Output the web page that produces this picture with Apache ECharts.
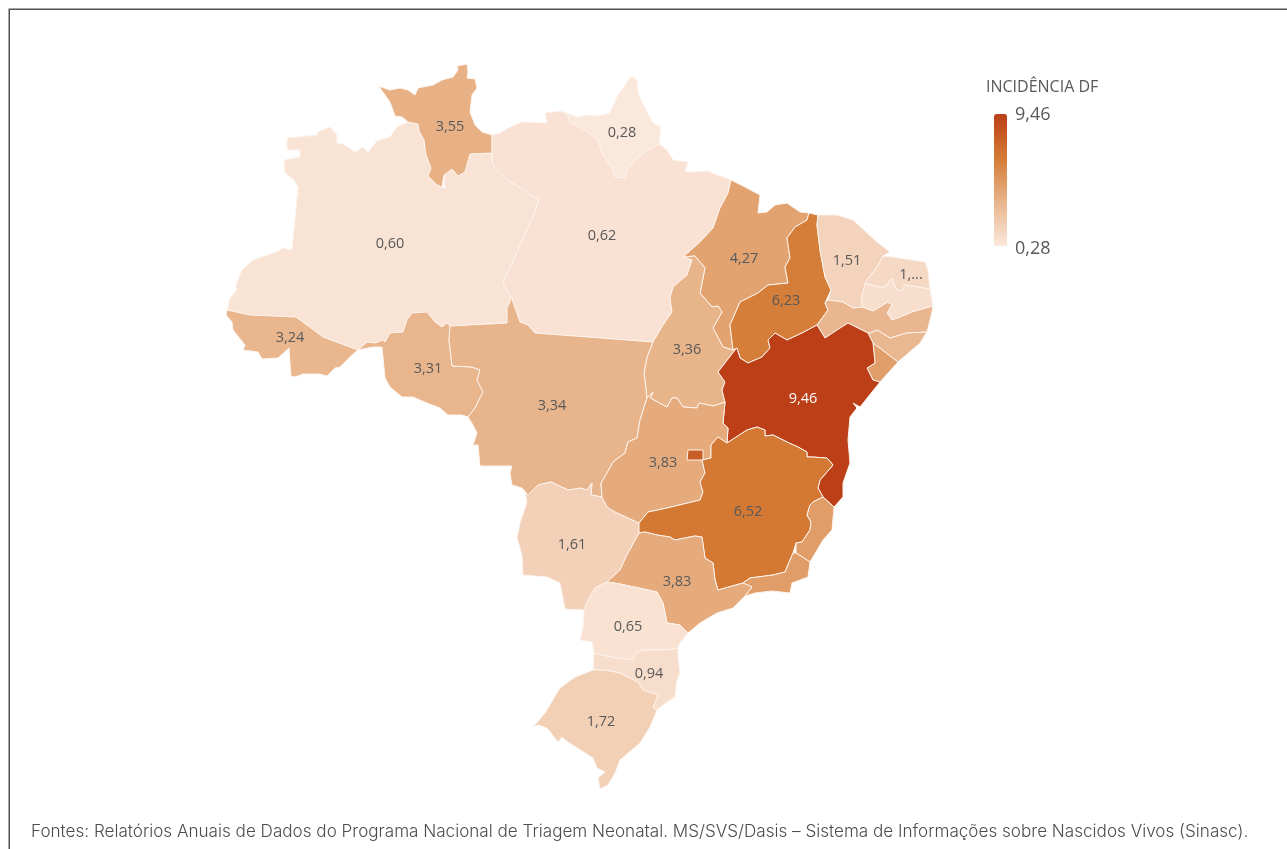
<!DOCTYPE html>
<html>
<head>
<meta charset="utf-8">
<title>Incidência DF</title>
<style>
  html, body { margin: 0; padding: 0; background: #fff; }
  #myChart { width: 1287px; height: 849px; }
</style>
<script src="https://cdn.jsdelivr.net/npm/echarts@6/dist/echarts.min.js"></script>
</head>
<body>
<div id="myChart"></div>
<script>
// valores por estado
const states = ["AM", "RR", "AP", "PA", "MA", "TO", "PI", "CE", "RN", "PB", "PE", "AL", "SE", "BA", "AC", "RO", "MT", "MS", "GO", "DF", "MG", "ES", "RJ", "SP", "PR", "SC", "RS"];
const values = [0.60, 3.55, 0.28, 0.62, 4.27, 3.36, 6.23, 1.51, 1.15, 0.85, 3.2, 3.1, 4.5, 9.46, 3.24, 3.31, 3.34, 1.61, 3.83, 7.9, 6.52, 4.6, 4.6, 3.83, 0.65, 0.94, 1.72];
const labels = ["0,60", "3,55", "0,28", "0,62", "4,27", "3,36", "6,23", "1,51", "1,...", "", "", "", "", "9,46", "3,24", "3,31", "3,34", "1,61", "3,83", "", "6,52", "", "", "3,83", "0,65", "0,94", "1,72"];
const labelPoints = [[390, 242], [450, 125], [622, 131], [602, 234], [744, 257], [687, 348], [786, 299], [847, 259], [911, 273], [900, 300], [880, 320], [900, 345], [880, 365], [803, 397], [290, 336], [428, 367], [552, 404], [572, 543], [663, 461], [695, 455], [748, 510], [815, 525], [775, 585], [677, 580], [628, 625], [649, 672], [601, 720]];
const legendColors = ["#fbe8dc", "#e8b48b", "#d47b35", "#bc3f17"];

// contornos (coordenadas da imagem)
const outlines = {
  AM: [[287,138],[317,135],[318,132],[330,127],[337,135],[337,143],[343,144],[355,152],[363,147],[368,152],[377,141],[390,137],[397,127],[408,122],[418,124],[419,131],[424,140],[426,155],[431,168],[428,176],[437,185],[442,187],[445,189],[444,175],[452,169],[458,176],[465,172],[470,154],[492,153],[492,162],[495,168],[507,180],[523,189],[535,198],[539,198],[535,212],[503,283],[513,302],[512,297],[507,308],[507,323],[450,326],[447,323],[442,327],[435,322],[427,312],[412,313],[407,320],[403,332],[390,333],[385,342],[383,340],[375,343],[367,342],[358,350],[323,337],[296,317],[250,315],[227,310],[228,307],[230,298],[237,290],[236,285],[242,270],[253,260],[277,252],[283,248],[292,250],[298,187],[294,180],[285,173],[284,160],[300,157],[300,150],[287,150]],
  RR: [[378,86],[390,90],[400,88],[408,90],[415,95],[418,88],[433,85],[442,80],[453,77],[458,70],[457,66],[467,64],[468,72],[467,78],[475,79],[477,88],[472,95],[470,112],[475,125],[482,132],[492,135],[492,153],[470,154],[465,172],[458,176],[452,169],[444,175],[442,187],[437,185],[428,176],[431,168],[426,155],[424,140],[419,131],[418,124],[408,122],[402,117],[395,116],[390,102],[380,88]],
  AP: [[567,113],[570,123],[582,128],[598,140],[602,153],[612,168],[615,177],[625,178],[628,168],[638,157],[653,147],[659,144],[661,127],[653,123],[650,117],[642,102],[638,92],[637,80],[632,76],[627,82],[617,97],[610,113],[598,116],[588,115],[577,117]],
  PA: [[492,135],[500,133],[510,127],[522,122],[547,123],[545,113],[560,111],[567,113],[570,123],[582,128],[598,140],[602,153],[612,168],[615,177],[625,178],[628,168],[638,157],[653,147],[659,144],[667,150],[673,160],[688,162],[685,171],[690,172],[707,171],[731,180],[728,193],[720,208],[713,228],[700,242],[683,257],[692,260],[687,275],[673,287],[670,298],[672,312],[663,325],[653,342],[535,333],[528,325],[520,322],[513,302],[503,283],[535,212],[539,198],[535,198],[523,189],[507,180],[495,168],[492,162],[492,153]],
  MA: [[731,180],[745,187],[760,195],[758,213],[767,212],[775,205],[787,203],[800,212],[809,213],[807,220],[795,227],[787,238],[790,258],[785,267],[788,283],[768,285],[758,293],[740,302],[730,325],[733,350],[723,347],[713,328],[722,312],[718,306],[712,307],[700,293],[705,268],[695,256],[683,257],[700,242],[713,228],[720,208],[728,193]],
  TO: [[683,257],[695,256],[705,268],[700,293],[712,307],[718,306],[722,312],[713,328],[723,347],[733,350],[735,350],[718,372],[725,382],[722,390],[725,402],[713,406],[699,403],[697,408],[683,407],[677,398],[672,398],[667,407],[650,398],[653,392],[647,398],[644,373],[647,357],[653,342],[663,325],[672,312],[670,298],[673,287],[687,275],[692,260]],
  PI: [[809,213],[818,215],[817,225],[820,250],[825,277],[831,290],[825,303],[828,310],[817,325],[802,333],[787,340],[775,333],[768,340],[770,348],[762,357],[748,363],[740,358],[737,348],[733,350],[730,325],[740,302],[758,293],[768,285],[788,283],[785,267],[790,258],[787,238],[795,227],[807,220]],
  CE: [[818,215],[837,215],[853,220],[877,242],[890,252],[883,256],[877,267],[867,280],[865,285],[862,295],[862,307],[853,308],[843,302],[828,300],[831,290],[825,277],[820,250],[817,225]],
  RN: [[883,256],[893,257],[925,262],[928,270],[930,289],[905,285],[902,291],[896,289],[892,278],[885,287],[878,287],[865,283],[867,280],[877,267]],
  PB: [[865,283],[878,287],[885,287],[892,278],[896,289],[902,291],[905,285],[930,289],[933,306],[912,312],[900,317],[892,320],[887,313],[892,305],[888,302],[873,311],[865,308],[862,307],[862,295],[865,285]],
  PE: [[828,300],[843,302],[853,308],[862,307],[865,308],[873,311],[888,302],[892,305],[887,313],[892,320],[900,317],[912,312],[933,306],[932,312],[927,332],[907,333],[890,338],[877,330],[870,333],[868,333],[848,323],[837,330],[825,338],[817,325],[828,310],[825,303]],
  AL: [[868,333],[870,333],[877,330],[890,338],[907,333],[927,332],[920,343],[898,362],[873,343]],
  SE: [[873,343],[898,362],[880,382],[873,380],[867,368],[875,363]],
  BA: [[735,350],[737,348],[740,358],[748,363],[762,357],[770,348],[768,340],[775,333],[787,340],[802,333],[817,325],[825,338],[837,330],[848,323],[868,333],[873,343],[875,363],[867,368],[873,380],[880,382],[860,407],[853,403],[857,408],[850,417],[848,440],[850,463],[843,483],[843,497],[834,507],[823,497],[818,488],[820,480],[833,465],[827,458],[812,457],[807,457],[807,452],[798,447],[787,442],[773,435],[765,436],[765,430],[757,427],[747,430],[727,443],[728,428],[723,423],[725,402],[722,390],[725,382],[718,372]],
  AC: [[227,310],[250,315],[296,317],[323,337],[358,350],[352,355],[340,367],[335,368],[327,376],[320,374],[303,374],[295,377],[291,376],[289,348],[278,358],[262,359],[258,352],[243,350],[245,345],[233,330],[232,322],[226,315]],
  RO: [[358,350],[367,342],[375,343],[383,340],[385,342],[390,333],[403,332],[407,320],[412,313],[427,312],[435,322],[442,327],[447,323],[450,326],[449,340],[452,366],[472,367],[480,370],[477,380],[483,392],[475,408],[468,417],[462,415],[448,415],[440,408],[427,403],[413,397],[402,397],[390,387],[385,378],[383,357],[382,347],[373,347]],
  MT: [[507,323],[507,308],[512,297],[513,302],[520,322],[528,325],[535,333],[653,342],[647,357],[644,373],[647,398],[640,420],[637,438],[628,442],[625,453],[613,462],[607,473],[601,483],[602,497],[591,495],[592,483],[587,490],[580,488],[575,489],[568,490],[551,482],[538,485],[528,495],[522,488],[512,485],[510,473],[512,466],[480,466],[478,445],[473,445],[477,433],[473,425],[468,417],[475,408],[483,392],[477,380],[480,370],[472,367],[452,366],[449,340],[450,326]],
  MS: [[525,493],[528,495],[538,485],[551,482],[568,490],[575,489],[580,488],[587,490],[592,483],[591,495],[602,497],[607,507],[615,512],[639,523],[639,533],[627,555],[620,570],[607,582],[595,588],[587,602],[584,610],[565,609],[560,583],[547,577],[523,575],[522,555],[517,538],[520,523],[527,502]],
  GO: [[653,392],[650,398],[667,407],[672,398],[677,398],[683,407],[697,408],[699,403],[713,406],[725,402],[723,423],[728,428],[727,443],[718,437],[711,445],[711,458],[702,460],[705,473],[700,482],[703,492],[700,500],[667,508],[648,512],[639,523],[615,512],[607,507],[602,497],[601,483],[607,473],[613,462],[625,453],[628,442],[637,438],[640,420],[647,398]],
  DF: [[688,450],[703,450],[703,460],[687,460]],
  MG: [[727,443],[747,430],[757,427],[765,430],[765,436],[773,435],[787,442],[798,447],[807,452],[807,457],[812,457],[827,458],[833,465],[820,480],[818,488],[823,497],[813,502],[810,505],[807,515],[811,522],[810,530],[802,542],[796,543],[793,553],[790,560],[785,572],[773,575],[750,578],[743,583],[718,590],[715,580],[713,563],[705,558],[702,537],[695,536],[675,540],[670,537],[657,535],[645,532],[639,533],[639,523],[648,512],[667,508],[700,500],[703,492],[700,482],[705,473],[702,460],[711,458],[711,445],[718,437]],
  ES: [[823,497],[834,507],[832,530],[823,540],[810,562],[796,553],[796,543],[802,542],[810,530],[811,522],[807,515],[810,505],[813,502]],
  RJ: [[743,583],[750,578],[773,575],[785,572],[790,560],[793,553],[796,553],[810,562],[808,577],[792,583],[790,593],[772,591],[755,593],[745,596],[752,587]],
  SP: [[639,533],[645,532],[657,535],[670,537],[675,540],[695,536],[702,537],[705,558],[713,563],[715,580],[718,590],[743,583],[752,587],[745,596],[733,608],[717,613],[700,623],[688,633],[680,625],[667,623],[663,603],[657,592],[620,584],[607,582],[620,570],[627,555]],
  PR: [[607,582],[620,584],[657,592],[663,603],[667,623],[680,625],[688,633],[680,643],[678,648],[667,650],[643,650],[635,653],[633,660],[610,657],[594,653],[592,642],[580,640],[583,627],[584,610],[587,602],[595,588]],
  SC: [[594,653],[610,657],[633,660],[635,653],[643,650],[667,650],[678,648],[678,657],[680,673],[677,680],[675,697],[667,702],[657,710],[653,708],[658,695],[643,690],[638,682],[620,673],[605,670],[593,670]],
  RS: [[593,670],[605,670],[620,673],[638,682],[643,690],[658,695],[653,708],[657,710],[650,727],[640,743],[620,760],[615,773],[608,785],[600,789],[598,778],[605,772],[597,768],[593,758],[568,742],[562,737],[558,742],[547,728],[538,725],[533,727],[545,713],[560,688],[575,677]],
};

const geoJson = {
  type: "FeatureCollection",
  features: states.map((name, i) => ({
    type: "Feature",
    properties: { name: name, cp: labelPoints[i] },
    geometry: { type: "Polygon", coordinates: [outlines[name].concat([outlines[name][0]])] },
  })),
};
echarts.registerMap("brasil", geoJson);

const allPoints = Object.values(outlines).flat();
const xs = allPoints.map((p) => p[0]);
const ys = allPoints.map((p) => p[1]);
const minX = Math.min(...xs), maxX = Math.max(...xs);
const minY = Math.min(...ys), maxY = Math.max(...ys);

const myChart = echarts.init(document.getElementById("myChart"));
const LABEL_FONT = "'Open Sans', 'Noto Sans', sans-serif";

const option = {
  animation: false,
  visualMap: {
    type: "continuous",
    min: 0.28,
    max: 9.46,
    left: 994,
    top: 114,
    padding: 0,
    itemWidth: 13,
    itemHeight: 132,
    calculable: false,
    text: null,
    showLabel: false,
    inRange: { color: legendColors },
    seriesIndex: 0,
    realtime: false,
    hoverLink: false,
  },
  series: [
    {
      type: "map",
      map: "brasil",
      silent: true,
      roam: false,
      projection: {
        project: (p) => p,
        unproject: (p) => p,
      },
      layoutCenter: [(minX + maxX) / 2, (minY + maxY) / 2],
      layoutSize: Math.max(maxX - minX, maxY - minY),
      itemStyle: { borderColor: "#fdf3ec", borderWidth: 1 },
      label: {
        show: true,
        color: "#595959",
        fontFamily: LABEL_FONT,
        fontSize: 14.5,
        offset: [0, 1.5],
      },
      emphasis: { disabled: true },
      data: states.map((name, i) => ({
        name: name,
        value: values[i],
        label: {
          show: labels[i] !== "",
          formatter: labels[i],
          color: name === "BA" ? "#ffffff" : "#595959",
        },
      })),
    },
  ],
  graphic: [
    {
      type: "rect",
      silent: true,
      shape: { x: 9.25, y: 9.25, width: 1400, height: 1000 },
      style: { fill: "none", stroke: "#505050", lineWidth: 1.5 },
    },
    {
      type: "text",
      left: 986,
      top: 79,
      style: { text: "INCIDÊNCIA DF", fill: "#595959", font: "16px " + LABEL_FONT },
    },
    {
      type: "text",
      left: 1015,
      top: 106,
      style: { text: "9,46", fill: "#595959", font: "18px " + LABEL_FONT },
    },
    {
      type: "text",
      left: 1015,
      top: 240,
      style: { text: "0,28", fill: "#595959", font: "18px " + LABEL_FONT },
    },
    {
      type: "text",
      left: 31,
      top: 823,
      style: {
        text: "Fontes: Relatórios Anuais de Dados do Programa Nacional de Triagem Neonatal. MS/SVS/Dasis – Sistema de Informações sobre Nascidos Vivos (Sinasc).",
        fill: "#4d4d4d",
        font: "300 17.1px Inter, 'Open Sans', sans-serif",
      },
    },
  ],
};
myChart.setOption(option);
</script>
</body>
</html>
